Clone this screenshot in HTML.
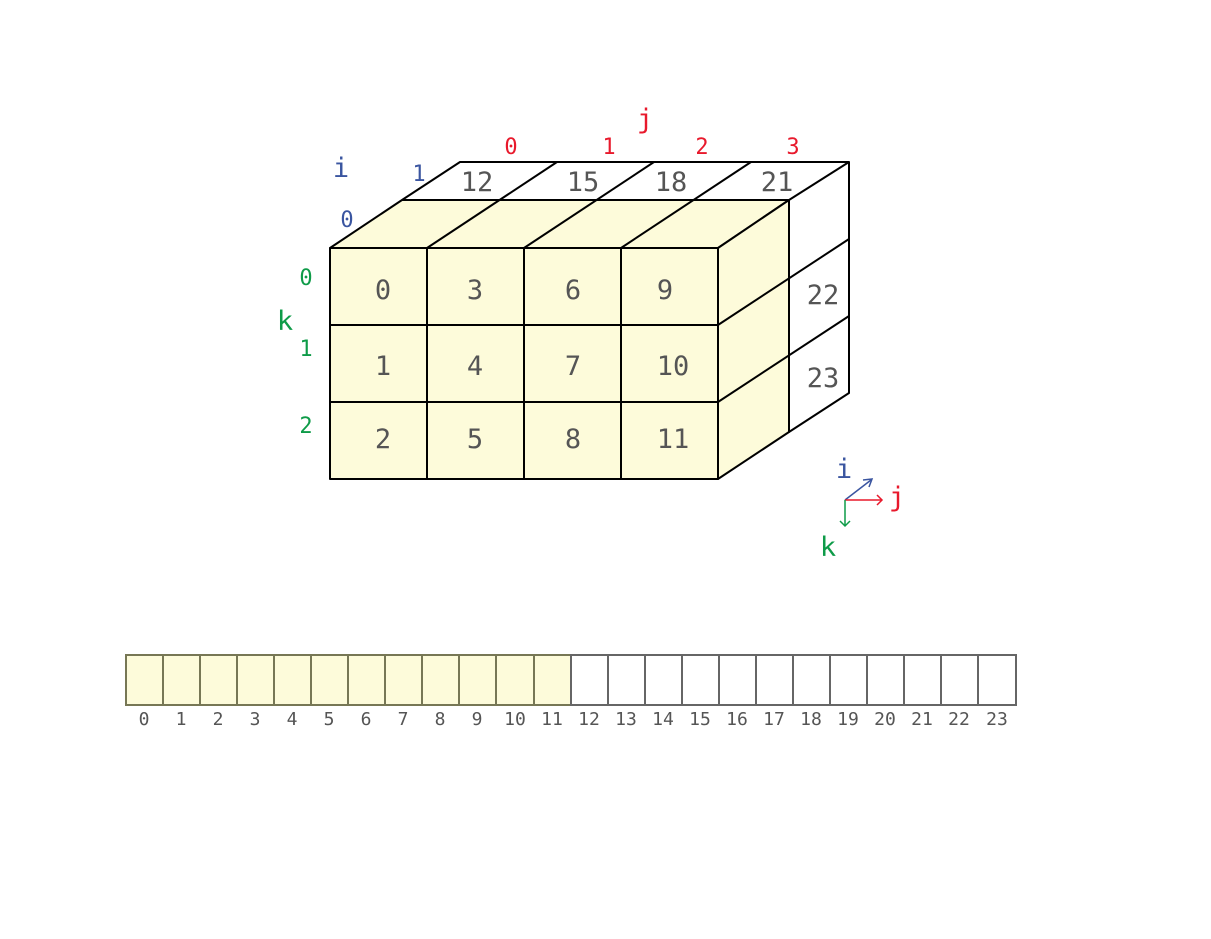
<!DOCTYPE html>
<html><head><style>
html,body{margin:0;padding:0;background:#fff;}
svg{display:block;}
text{font-family:"DejaVu Sans Mono","Liberation Mono",monospace;}
</style></head><body>
<svg width="1211" height="939" viewBox="0 0 1211 939" xmlns="http://www.w3.org/2000/svg">
<g stroke="#000" stroke-width="2" stroke-linejoin="round">
<polygon points="330,248 402,200 789,200 718,248" fill="#fdfbda"/>
<polygon points="718,248 789,200 789,432 718,479" fill="#fdfbda"/>
<rect x="330" y="248" width="388" height="231" fill="#fdfbda"/>
<polyline points="402,200 460,162 849,162 849,393 789,432" fill="none"/>
<line x1="789" y1="200" x2="849" y2="162"/>
<line x1="427" y1="248" x2="557" y2="162"/>
<line x1="524" y1="248" x2="654" y2="162"/>
<line x1="621" y1="248" x2="751" y2="162"/>
<line x1="718" y1="325" x2="849" y2="239"/>
<line x1="718" y1="402" x2="849" y2="316"/>
<line x1="427" y1="248" x2="427" y2="479"/>
<line x1="524" y1="248" x2="524" y2="479"/>
<line x1="621" y1="248" x2="621" y2="479"/>
<line x1="330" y1="325" x2="718" y2="325"/>
<line x1="330" y1="402" x2="718" y2="402"/>
</g>
<g fill="#555" font-size="27" text-anchor="middle">
<text x="383" y="299">0</text><text x="475" y="299">3</text><text x="573" y="299">6</text><text x="665" y="299">9</text>
<text x="383" y="375">1</text><text x="475" y="375">4</text><text x="573" y="375">7</text><text x="673" y="375">10</text>
<text x="383" y="448">2</text><text x="475" y="448">5</text><text x="573" y="448">8</text><text x="673" y="448">11</text>
<text x="477" y="191">12</text><text x="583" y="191">15</text><text x="671" y="191">18</text><text x="777" y="191">21</text>
<text x="823" y="304">22</text><text x="823" y="387">23</text>
</g>
<g fill="#e8192c" font-size="22" text-anchor="middle">
<text x="511" y="154">0</text><text x="609" y="154">1</text><text x="702" y="154">2</text><text x="793" y="154">3</text>
<text x="645" y="128" font-size="27">j</text>
</g>
<g fill="#3a55a0" text-anchor="middle">
<text x="341" y="177" font-size="27">i</text>
<text x="419" y="181" font-size="22">1</text>
<text x="347" y="227" font-size="22">0</text>
</g>
<g fill="#0e9b48" text-anchor="middle">
<text x="306" y="285" font-size="22">0</text>
<text x="306" y="356" font-size="22">1</text>
<text x="306" y="433" font-size="22">2</text>
<text x="285" y="330" font-size="27">k</text>
</g>
<!-- axes -->
<line x1="845" y1="500" x2="871" y2="480" stroke="#3a55a0" stroke-width="1.5"/>
<polyline points="863,480 872,479 869,487" fill="none" stroke="#3a55a0" stroke-width="1.5"/>
<line x1="845" y1="500" x2="882" y2="500" stroke="#e8192c" stroke-width="1.5"/>
<polyline points="877,495 882,500 877,505" fill="none" stroke="#e8192c" stroke-width="1.5"/>
<line x1="845" y1="500" x2="845" y2="526" stroke="#0e9b48" stroke-width="1.5"/>
<polyline points="840,521 845,526 850,521" fill="none" stroke="#0e9b48" stroke-width="1.5"/>
<text x="844" y="478" fill="#3a55a0" font-size="27" text-anchor="middle">i</text>
<text x="897" y="506" fill="#e8192c" font-size="27" text-anchor="middle">j</text>
<text x="828" y="556" fill="#0e9b48" font-size="27" text-anchor="middle">k</text>
<!-- array -->
<g stroke-width="2">
<rect x="126" y="655" width="445" height="50" fill="#fdfbda" stroke="#777755"/>
<rect x="571" y="655" width="445" height="50" fill="#fff" stroke="#666"/>
<g stroke="#777755">
<line x1="163" y1="655" x2="163" y2="705"/><line x1="200" y1="655" x2="200" y2="705"/><line x1="237" y1="655" x2="237" y2="705"/><line x1="274" y1="655" x2="274" y2="705"/><line x1="311" y1="655" x2="311" y2="705"/><line x1="348" y1="655" x2="348" y2="705"/><line x1="385" y1="655" x2="385" y2="705"/><line x1="422" y1="655" x2="422" y2="705"/><line x1="459" y1="655" x2="459" y2="705"/><line x1="496" y1="655" x2="496" y2="705"/><line x1="534" y1="655" x2="534" y2="705"/>
</g>
<g stroke="#666">
<line x1="608" y1="655" x2="608" y2="705"/><line x1="645" y1="655" x2="645" y2="705"/><line x1="682" y1="655" x2="682" y2="705"/><line x1="719" y1="655" x2="719" y2="705"/><line x1="756" y1="655" x2="756" y2="705"/><line x1="793" y1="655" x2="793" y2="705"/><line x1="830" y1="655" x2="830" y2="705"/><line x1="867" y1="655" x2="867" y2="705"/><line x1="904" y1="655" x2="904" y2="705"/><line x1="941" y1="655" x2="941" y2="705"/><line x1="978" y1="655" x2="978" y2="705"/>
</g>
</g>
<g fill="#555" font-size="18" text-anchor="middle">
<text x="144" y="725">0</text><text x="181" y="725">1</text><text x="218" y="725">2</text><text x="255" y="725">3</text><text x="292" y="725">4</text><text x="329" y="725">5</text><text x="366" y="725">6</text><text x="403" y="725">7</text><text x="440" y="725">8</text><text x="477" y="725">9</text><text x="515" y="725">10</text><text x="552" y="725">11</text>
<text x="589" y="725">12</text><text x="626" y="725">13</text><text x="663" y="725">14</text><text x="700" y="725">15</text><text x="737" y="725">16</text><text x="774" y="725">17</text><text x="811" y="725">18</text><text x="848" y="725">19</text><text x="885" y="725">20</text><text x="922" y="725">21</text><text x="959" y="725">22</text><text x="997" y="725">23</text>
</g>
</svg>
</body></html>
